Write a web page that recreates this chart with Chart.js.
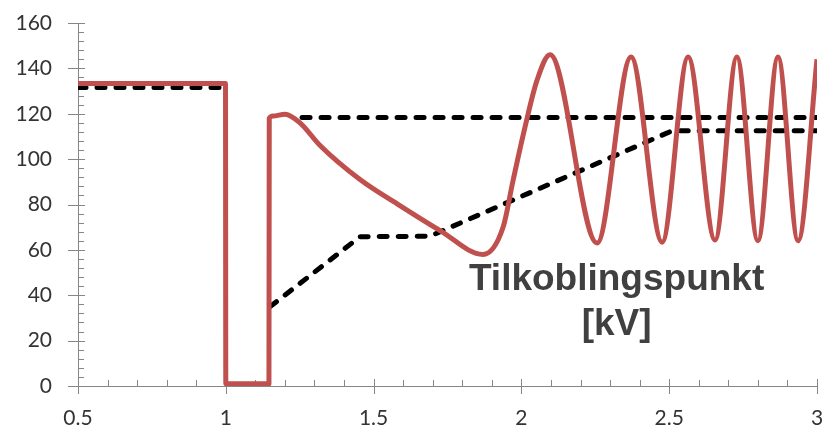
<!DOCTYPE html>
<html>
<head>
<meta charset="utf-8">
<script src="https://cdn.jsdelivr.net/npm/chart.js@4.4.1/dist/chart.umd.min.js"></script>
<style>
  html, body { margin: 0; padding: 0; background: #fff; }
  #wrap { width: 833px; height: 439px; }
</style>
</head>
<body>
<div id="wrap"><canvas id="chart" width="833" height="439"></canvas></div>
<script>
// x ticks and y ticks
const xTicks = [0.5, 1, 1.5, 2, 2.5, 3];
const yTicks = [0, 20, 40, 60, 80, 100, 120, 140, 160];

// red curve (voltage)
const redX = [0.5, 0.999, 1.0, 1.146, 1.147, 1.16, 1.20, 1.251, 1.319, 1.454, 1.589, 1.725, 1.870,
              1.938, 1.972, 2.012, 2.053, 2.097, 2.256, 2.371, 2.476, 2.564, 2.655, 2.729, 2.80, 2.868, 2.936, 3.0];
const redY = [133.3, 133.3, 1, 1, 118, 119, 119.8, 116, 106, 91, 79.5, 68.5, 58,
              70, 90.7, 114, 134.8, 146, 63, 145, 63.4, 145, 64.3, 145, 64, 145, 64, 144];

// black dashed lines
const pre1X = [0.5, 0.99];
const pre1Y = [131.6, 131.6];
const rampX = [1.15, 1.454, 1.69, 2.51, 3.0];
const rampY = [35, 65.8, 66, 112.5, 112.5];
const flatX = [1.258, 3.0];
const flatY = [118.3, 118.3];

const labelLines = ['Tilkoblingspunkt', '[kV]'];

function pts(xs, ys) { return xs.map((x, i) => ({ x: x, y: ys[i] })); }

const axisColor = '#868686';

// minor/major tick marks like the office chart
const tickMarks = {
    id: 'tickMarks',
    beforeDatasetsDraw(chart) {
        const ctx = chart.ctx, xs = chart.scales.x, ys = chart.scales.y;
        const y0 = ys.getPixelForValue(0), x0 = xs.getPixelForValue(0.5);
        ctx.save();
        ctx.strokeStyle = axisColor;
        ctx.lineWidth = 1;
        ctx.beginPath();
        for (let i = 0; i <= 25; i++) {
            const px = Math.round(xs.getPixelForValue(0.5 + i * 0.1)) + 0.5;
            if (i % 5 === 0) { ctx.moveTo(px, y0 - 7); ctx.lineTo(px, y0 + 8); }
            else { ctx.moveTo(px, y0 - 6); ctx.lineTo(px, y0); }
        }
        for (let i = 0; i <= 40; i++) {
            const py = Math.round(ys.getPixelForValue(i * 4)) + 0.5;
            if (i % 5 === 0) { ctx.moveTo(x0 - 10, py); ctx.lineTo(x0 + 7, py); }
            else { ctx.moveTo(x0, py); ctx.lineTo(x0 + 6, py); }
        }
        ctx.stroke();
        ctx.restore();
    },
    afterDraw(chart) {
        const ctx = chart.ctx, xs = chart.scales.x, ys = chart.scales.y;
        const cx = xs.getPixelForValue(2.322);
        const by = ys.getPixelForValue(42.3);
        ctx.save();
        ctx.fillStyle = '#404040';
        ctx.font = 'bold 37px "Liberation Sans", Arial, sans-serif';
        ctx.textAlign = 'center';
        ctx.textBaseline = 'alphabetic';
        labelLines.forEach((t, i) => ctx.fillText(t, cx, by + i * 45));
        ctx.restore();
    }
};

const dashed = { borderColor: '#000', borderWidth: 5, borderDash: [8, 11], borderCapStyle: 'round',
                 tension: 0, pointRadius: 0, fill: false };

new Chart(document.getElementById('chart'), {
    type: 'line',
    data: {
        datasets: [
            { data: pts(redX, redY), borderColor: '#C0504D', borderWidth: 5,
              cubicInterpolationMode: 'monotone', pointRadius: 0, fill: false, borderJoinStyle: 'round' },
            Object.assign({ data: pts(pre1X, pre1Y) }, dashed),
            Object.assign({ data: pts(rampX, rampY) }, dashed),
            Object.assign({ data: pts(flatX, flatY) }, dashed)
        ]
    },
    options: {
        responsive: false,
        animation: false,
        layout: { padding: { top: 23, right: 16, left: 0, bottom: 0 } },
        plugins: { legend: { display: false }, tooltip: { enabled: false } },
        scales: {
            x: {
                type: 'linear', min: 0.5, max: 3,
                afterBuildTicks: s => { s.ticks = xTicks.map(v => ({ value: v })); },
                afterFit: s => { s.height = 53; s.paddingLeft = 0; s.paddingRight = 0; },
                grid: { display: false, drawTicks: false },
                border: { display: true, color: axisColor, width: 1 },
                ticks: { padding: 20, color: '#333', font: { family: 'Lato', size: 21 }, maxRotation: 0,
                         callback: v => String(v) }
            },
            y: {
                min: 0, max: 160,
                afterBuildTicks: s => { s.ticks = yTicks.map(v => ({ value: v })); },
                afterFit: s => { s.width = 78; s.paddingTop = 0; s.paddingBottom = 0; },
                grid: { display: false, drawTicks: false },
                border: { display: true, color: axisColor, width: 1 },
                ticks: { padding: 26, color: '#333', font: { family: 'Lato', size: 21 } }
            }
        }
    },
    plugins: [tickMarks]
});
</script>
</body>
</html>
